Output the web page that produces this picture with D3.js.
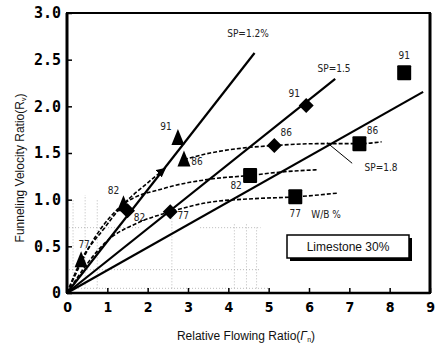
<!DOCTYPE html>
<html>
<head>
<meta charset="utf-8">
<script src="https://cdn.jsdelivr.net/npm/d3@7"></script>
<style>
  html, body { margin: 0; padding: 0; background: #fff; }
  svg { display: block; }
</style>
</head>
<body>
<svg id="chart" width="443" height="346"></svg>
<script>
// W/B ratios tagged on each measured point
const wbLabels = ["77", "82", "86", "91"];

// SP = 1.2 % (triangles)
const triX = [0.35, 1.40, 2.90, 2.75];
const triY = [0.35, 0.95, 1.43, 1.66];
// SP = 1.5 % (diamonds)
const diaX = [2.56, 1.50, 5.14, 5.93];
const diaY = [0.87, 0.88, 1.58, 2.01];
// SP = 1.8 % (squares)
const sqX = [5.66, 4.54, 7.25, 8.36];
const sqY = [1.03, 1.26, 1.60, 2.36];

// straight trend lines through the origin: [x end, slope]
const spNames = ["SP=1.2%", "SP=1.5", "SP=1.8"];
const spEndX = [4.65, 6.65, 8.83];
const spSlope = [0.553, 0.345, 0.244];

// dashed equal-W/B curves
const curve77 = [[0, 0], [1.0, 0.56], [1.8, 0.76], [2.56, 0.87], [3.5, 0.97], [4.6, 1.01], [5.66, 1.03], [6.7, 1.07]];
const curve82 = [[0, 0], [0.7, 0.6], [1.4, 0.95], [2.4, 1.12], [3.55, 1.22], [4.54, 1.26], [5.4, 1.3], [6.2, 1.32]];
const curve86 = [[2.90, 1.43], [3.55, 1.50], [4.3, 1.55], [5.14, 1.58], [6.2, 1.60], [7.25, 1.60], [7.8, 1.62]];
const curveTri = [[0, 0], [0.35, 0.35], [0.9, 0.68], [1.4, 0.95], [2.0, 1.18], [2.42, 1.33]];

const xTicks = [0, 1, 2, 3, 4, 5, 6, 7, 8, 9];
const yTicks = [0, 0.5, 1.0, 1.5, 2.0, 2.5, 3.0];
const yTickText = ["0", "0.5", "1.0", "1.5", "2.0", "2.5", "3.0"];

const svg = d3.select("#chart");
const x = d3.scaleLinear().domain([0, 9]).range([67, 430]);
const y = d3.scaleLinear().domain([0, 3]).range([293, 13]);

const narrow = "'Liberation Sans Narrow', 'DejaVu Sans Condensed', 'Liberation Sans', sans-serif";

// faint dotted texture in the lower-left region
const dotG = svg.append("g").attr("stroke", "#aaa").attr("stroke-width", 0.8)
  .attr("stroke-dasharray", "1,2").attr("fill", "none");
[[0.15, 0.05, 1.0], [0.45, 0.05, 1.05], [0.75, 0.05, 1.0], [2.6, 0.05, 0.9], [4.15, 0.05, 0.75], [4.45, 0.05, 0.75], [4.7, 0.05, 0.7]]
  .forEach(d => dotG.append("line").attr("x1", x(d[0])).attr("x2", x(d[0])).attr("y1", y(d[1])).attr("y2", y(d[2])));
[[0.05, 5.0, 0.05], [0.05, 1.8, 0.7], [3.3, 4.8, 0.7], [0.05, 4.8, 0.25]]
  .forEach(d => dotG.append("line").attr("x1", x(d[0])).attr("x2", x(d[1])).attr("y1", y(d[2])).attr("y2", y(d[2])));

// frame: heavier left, bottom and right edges
svg.append("rect").attr("x", x(0)).attr("y", y(3)).attr("width", x(9) - x(0)).attr("height", y(0) - y(3))
  .attr("fill", "none").attr("stroke", "#000").attr("stroke-width", 2);
svg.append("line").attr("x1", x(0)).attr("x2", x(0)).attr("y1", y(3)).attr("y2", y(0)).attr("stroke", "#000").attr("stroke-width", 3);
svg.append("line").attr("x1", x(9)).attr("x2", x(9)).attr("y1", y(3)).attr("y2", y(0)).attr("stroke", "#000").attr("stroke-width", 3);
svg.append("line").attr("x1", x(0)).attr("x2", x(9)).attr("y1", y(0)).attr("y2", y(0)).attr("stroke", "#000").attr("stroke-width", 2.5);

// inward ticks
const xAxis = d3.axisBottom(x).tickValues(xTicks).tickSize(-5).tickFormat(d => d);
const xg = svg.append("g").attr("transform", `translate(0,${y(0)})`).call(xAxis);
xg.select(".domain").remove();
xg.selectAll(".tick line").attr("stroke-width", 1.5);
xg.selectAll(".tick text").attr("y", 9).attr("dy", "0.71em")
  .attr("font-family", "'DejaVu Sans Condensed', 'Liberation Sans', sans-serif")
  .attr("font-size", 14).attr("font-weight", "bold").attr("fill", "#000");

const yAxis = d3.axisLeft(y).tickValues(yTicks).tickSize(-5).tickFormat((d, i) => yTickText[i]);
const yg = svg.append("g").attr("transform", `translate(${x(0)},0)`).call(yAxis);
yg.select(".domain").remove();
yg.selectAll(".tick line").attr("stroke-width", 1.5);
yg.selectAll(".tick text").attr("x", -6)
  .attr("font-family", "'DejaVu Sans Mono', monospace")
  .attr("font-size", 15).attr("font-weight", "bold").attr("fill", "#000");

// axis titles
const xt = svg.append("text").attr("x", 246).attr("y", 340).attr("text-anchor", "middle")
  .attr("font-family", "'Liberation Sans', Arial, sans-serif").attr("font-size", 12).attr("fill", "#111");
xt.append("tspan").text("Relative Flowing Ratio(");
xt.append("tspan").attr("font-style", "italic").text("Γ");
xt.append("tspan").attr("font-size", 7).attr("dy", 2).text("n");
xt.append("tspan").attr("dy", -2).text(")");

const yt = svg.append("text").attr("transform", "translate(24,168) rotate(-90)").attr("text-anchor", "middle")
  .attr("font-family", "'Liberation Sans', Arial, sans-serif").attr("font-size", 12).attr("fill", "#111");
yt.append("tspan").text("Funneling Velocity Ratio(R");
yt.append("tspan").attr("font-size", 7).attr("dy", 2).text("v");
yt.append("tspan").attr("dy", -2).text(")");

// arrow marker for dashed trend curves
svg.append("defs").append("marker").attr("id", "arr").attr("viewBox", "0 0 10 10")
  .attr("refX", 8).attr("refY", 5).attr("markerWidth", 6).attr("markerHeight", 6).attr("orient", "auto")
  .append("path").attr("d", "M0,0 L10,5 L0,10 z").attr("fill", "#000");

// solid SP lines
spEndX.forEach((ex, i) => {
  svg.append("line").attr("x1", x(0)).attr("y1", y(0)).attr("x2", x(ex)).attr("y2", y(ex * spSlope[i]))
    .attr("stroke", "#000").attr("stroke-width", 2.2);
});

// dashed curves
const line = d3.line().x(d => x(d[0])).y(d => y(d[1])).curve(d3.curveMonotoneX);
[curve77, curve82, curve86].forEach(c => {
  svg.append("path").attr("d", line(c)).attr("fill", "none").attr("stroke", "#000")
    .attr("stroke-width", 1.6).attr("stroke-dasharray", "4,2");
});
svg.append("path").attr("d", line(curveTri)).attr("fill", "none").attr("stroke", "#000")
  .attr("stroke-width", 1.6).attr("stroke-dasharray", "4,2").attr("marker-end", "url(#arr)");

// leader from the SP=1.8 line to its label
svg.append("line").attr("x1", x(6.45)).attr("y1", y(1.61)).attr("x2", x(7.07)).attr("y2", y(1.39))
  .attr("stroke", "#000").attr("stroke-width", 1);

// markers
const triPath = "M0,-9 L6.5,7 L-6.5,7 Z";
const diaPath = "M0,-7.5 L7.5,0 L0,7.5 L-7.5,0 Z";
triX.forEach((v, i) => svg.append("path").attr("d", triPath).attr("transform", `translate(${x(v)},${y(triY[i])})`).attr("fill", "#000"));
diaX.forEach((v, i) => svg.append("path").attr("d", diaPath).attr("transform", `translate(${x(v)},${y(diaY[i])})`).attr("fill", "#000"));
sqX.forEach((v, i) => svg.append("rect").attr("x", x(v) - 7).attr("y", y(sqY[i]) - 7.5)
  .attr("width", 14).attr("height", 15).attr("rx", 1).attr("fill", "#000"));

// point labels (W/B)
const lab = (px, py, t, anchor) => svg.append("text").attr("x", px).attr("y", py).text(t)
  .attr("text-anchor", anchor || "middle").attr("font-family", narrow).attr("font-size", 10).attr("fill", "#222");
const triOff = [[3, -12], [-10, -10], [13, 5], [-12, -8]];
const diaOff = [[13, 7], [12, 10], [12, -10], [-12, -8]];
const sqOff = [[0, 20], [-14, 14], [13, -10], [0, -14]];
triX.forEach((v, i) => lab(x(v) + triOff[i][0], y(triY[i]) + triOff[i][1], wbLabels[i]));
diaX.forEach((v, i) => lab(x(v) + diaOff[i][0], y(diaY[i]) + diaOff[i][1], wbLabels[i]));
sqX.forEach((v, i) => lab(x(sqX[i]) + sqOff[i][0], y(sqY[i]) + sqOff[i][1], wbLabels[i]));
lab(326, 218, "W/B %");

// SP line labels
const spPos = [[248, 37], [334, 72], [381, 171]];
spNames.forEach((t, i) => lab(spPos[i][0], spPos[i][1], t));

// legend box
svg.append("rect").attr("x", 290).attr("y", 238).attr("width", 122).attr("height", 23).attr("fill", "#000");
svg.append("rect").attr("x", 287).attr("y", 235).attr("width", 122).attr("height", 23)
  .attr("fill", "#fff").attr("stroke", "#000").attr("stroke-width", 1.5);
svg.append("text").attr("x", 348).attr("y", 251).attr("text-anchor", "middle")
  .attr("font-family", "'Liberation Sans', Arial, sans-serif").attr("font-size", 12).attr("fill", "#111")
  .text("Limestone 30%");
</script>
</body>
</html>
